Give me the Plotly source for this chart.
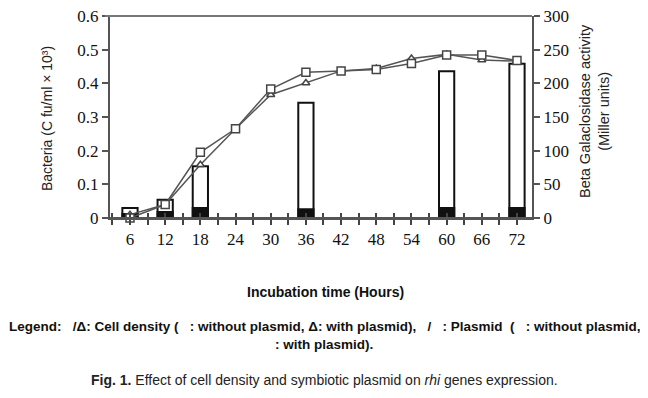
import plotly.graph_objects as go

# ---- data ----
hours = [6, 12, 18, 24, 30, 36, 42, 48, 54, 60, 66, 72]
cd_without_plasmid = [0.0, 0.04, 0.195, 0.265, 0.383, 0.433, 0.437, 0.441, 0.459, 0.484, 0.484, 0.468]
cd_with_plasmid = [0.01, 0.04, 0.158, 0.265, 0.366, 0.401, 0.437, 0.444, 0.474, 0.486, 0.469, 0.466]

bar_hours = [6, 12, 18, 36, 60, 72]
miller_without_plasmid = [15, 27, 77, 171, 218, 229]
miller_with_plasmid = [6, 9, 15, 13, 15, 15]

x_tick_vals = [6, 12, 18, 24, 30, 36, 42, 48, 54, 60, 66, 72]
minor_tick_vals = [3, 6, 9, 12, 15, 18, 21, 24, 27, 30, 33, 36, 39, 42, 45, 48, 51, 54, 57, 60, 63, 66, 69, 72]
left_tick_vals = [0, 0.1, 0.2, 0.3, 0.4, 0.5, 0.6]
left_tick_text = ["0", "0.1", "0.2", "0.3", "0.4", "0.5", "0.6"]

fig = go.Figure()

# bars on primary y (right side, Miller units)
fig.add_trace(go.Bar(x=bar_hours, y=miller_without_plasmid, width=2.6,
                     marker=dict(color="white", line=dict(color="#111", width=2)),
                     xaxis="x", yaxis="y", showlegend=False))
fig.add_trace(go.Bar(x=bar_hours, y=miller_with_plasmid, width=2.6,
                     marker=dict(color="#111", line=dict(color="#111", width=2)),
                     xaxis="x", yaxis="y", showlegend=False))

# lines on y2 (left side, bacteria)
fig.add_trace(go.Scatter(x=hours, y=cd_with_plasmid, mode="lines+markers",
                         line=dict(color="#555", width=1.5),
                         marker=dict(symbol="triangle-up", size=7, color="white",
                                     line=dict(color="#444", width=1.5)),
                         xaxis="x", yaxis="y2", showlegend=False, cliponaxis=False))
fig.add_trace(go.Scatter(x=hours, y=cd_without_plasmid, mode="lines+markers",
                         line=dict(color="#555", width=1.5),
                         marker=dict(symbol="square", size=8, color="white",
                                     line=dict(color="#444", width=1.5)),
                         xaxis="x", yaxis="y2", showlegend=False, cliponaxis=False))

# dummy trace for inside-tick overlay x axis
fig.add_trace(go.Scatter(x=[None], y=[None], xaxis="x2", yaxis="y", showlegend=False,
                         hoverinfo="skip"))

tick_font = dict(family="Liberation Serif, Times New Roman, serif", size=17, color="#111")
xr = [2.59, 74.56]

# page has an 8px body margin: figure is 640x390 placed at (8, 8)
fig.update_layout(
    width=640, height=390,
    margin=dict(l=102, r=116, t=8, b=180, autoexpand=False),
    paper_bgcolor="white", plot_bgcolor="white",
    barmode="overlay",
    xaxis=dict(range=xr, tickvals=x_tick_vals, ticks="outside", ticklen=5, tickwidth=2,
               tickcolor="#444", showline=True, linecolor="#555", linewidth=2,
               mirror=False, showgrid=False, zeroline=False, tickfont=tick_font,
               automargin=False, ticklabeloverflow="allow",
               minor=dict(tickvals=minor_tick_vals, ticks="outside", ticklen=5,
                          tickwidth=2, tickcolor="#444")),
    xaxis2=dict(range=xr, overlaying="x", anchor="y", side="bottom",
                tickvals=minor_tick_vals, ticks="inside", ticklen=5, tickwidth=2,
                tickcolor="#444", showticklabels=False, showline=False,
                showgrid=False, zeroline=False, automargin=False),
    yaxis=dict(range=[0, 300], side="right", dtick=50, ticks="outside", ticklen=6,
               tickwidth=2, tickcolor="#555", showline=True, linecolor="#555",
               linewidth=2, showgrid=False, zeroline=False, tickfont=tick_font,
               automargin=False, ticklabeloverflow="allow"),
    yaxis2=dict(range=[0, 0.6], side="left", overlaying="y", anchor="x",
                tickvals=left_tick_vals, ticktext=left_tick_text,
                ticks="outside", ticklen=6, tickwidth=2,
                tickcolor="#555", showline=True, linecolor="#555", linewidth=2,
                showgrid=False, zeroline=False, tickfont=tick_font, automargin=False,
                ticklabeloverflow="allow"),
)

# top border line and extended bottom axis
fig.add_shape(type="line", xref="paper", yref="paper", x0=-0.012, x1=1, y0=1, y1=1,
              line=dict(color="#777", width=2))
fig.add_shape(type="line", xref="paper", yref="paper", x0=-0.012, x1=1.019, y0=0, y1=0,
              line=dict(color="#555", width=2))

sans = "Liberation Sans, Arial, sans-serif"
H = 202.0
W = 422.0
def py(p):
    return (218 - p) / H
def px(p):
    return (p - 110) / W

fig.add_annotation(text="Bacteria (C fu/ml × 10³)", textangle=-90, xref="paper", yref="paper",
                   x=px(47), y=py(119), xanchor="center", yanchor="middle",
                   showarrow=False, font=dict(family=sans, size=14, color="#222"))
fig.add_annotation(text="Beta Galaclosidase activity<br>(Miller units)", textangle=-90,
                   xref="paper", yref="paper", x=px(594), y=py(111),
                   xanchor="center", yanchor="middle", showarrow=False,
                   font=dict(family=sans, size=14.5, color="#222"))
fig.add_annotation(text="<b>Incubation time (Hours)</b>", xref="paper", yref="paper",
                   x=px(325), y=py(292), xanchor="center", yanchor="middle",
                   showarrow=False, font=dict(family=sans, size=14, color="#111"))
fig.add_annotation(text="<b>Legend:   /Δ: Cell density (   : without plasmid, Δ: with plasmid),   /   : Plasmid  (   : without plasmid,</b>",
                   xref="paper", yref="paper", x=px(324), y=py(326),
                   xanchor="center", yanchor="middle", showarrow=False,
                   font=dict(family=sans, size=13.5, color="#111"))
fig.add_annotation(text="<b>: with plasmid).</b>",
                   xref="paper", yref="paper", x=px(324), y=py(344),
                   xanchor="center", yanchor="middle", showarrow=False,
                   font=dict(family=sans, size=13.5, color="#111"))
fig.add_annotation(text="<b>Fig. 1.</b> Effect of cell density and symbiotic plasmid on <i>rhi</i> genes expression.",
                   xref="paper", yref="paper", x=px(324), y=py(380),
                   xanchor="center", yanchor="middle", showarrow=False,
                   font=dict(family=sans, size=14, color="#222"))

fig.write_html("out.html")
